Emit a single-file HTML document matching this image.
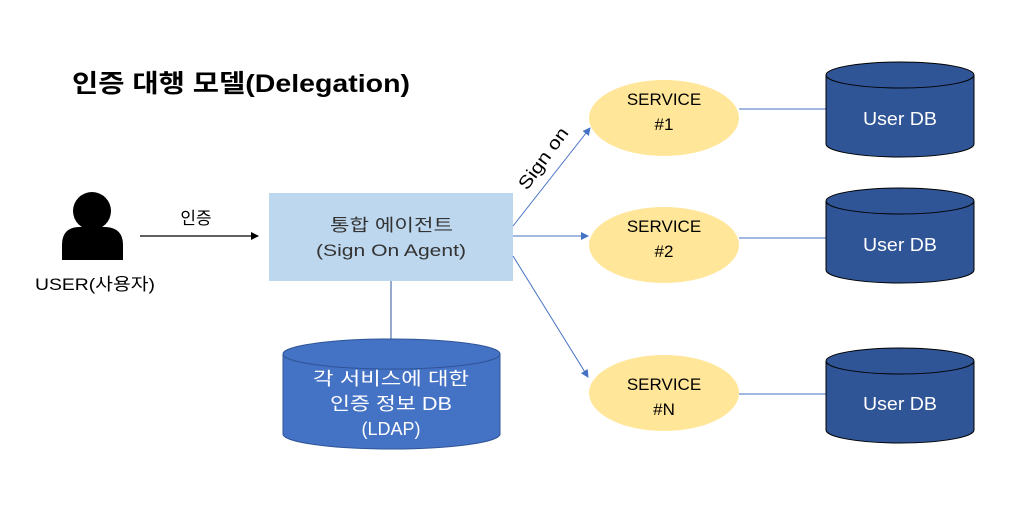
<!DOCTYPE html>
<html><head><meta charset="utf-8"><style>
html,body{margin:0;padding:0;background:#fff;}
svg{display:block;font-family:"Liberation Sans","Noto Sans CJK KR",sans-serif;}
</style></head><body>
<svg width="1013" height="512" viewBox="0 0 1013 512" xmlns="http://www.w3.org/2000/svg">
<defs>
<marker id="a" markerWidth="8" markerHeight="8" refX="7" refY="4" orient="auto" markerUnits="userSpaceOnUse">
<path d="M0,0 L8,4 L0,8 z" fill="#4472c4"/></marker>
<marker id="b" markerWidth="8" markerHeight="8" refX="7" refY="4" orient="auto" markerUnits="userSpaceOnUse">
<path d="M0,0 L8,4 L0,8 z" fill="#000"/></marker>
</defs>
<text x="72" y="92" font-size="25" font-weight="bold" fill="#000" textLength="338" lengthAdjust="spacingAndGlyphs">인증 대행 모델(Delegation)</text>

<circle cx="92" cy="211" r="19" fill="#000"/>
<path d="M62,260 L62,245 Q62,228 78,227 L106,227 Q123,228 123,245 L123,260 Z" fill="#000"/>
<text x="35" y="290" font-size="17" textLength="120" lengthAdjust="spacingAndGlyphs">USER(사용자)</text>

<line x1="140" y1="236" x2="258" y2="236" stroke="#000" stroke-width="1.2" marker-end="url(#b)"/>
<text x="196" y="224" font-size="17" text-anchor="middle">인증</text>

<rect x="269" y="193" width="244" height="88" fill="#bdd7ee"/>
<text x="330" y="231" font-size="17" fill="#333" textLength="123" lengthAdjust="spacingAndGlyphs">통합 에이전트</text>
<text x="316" y="256" font-size="17" fill="#333" textLength="150" lengthAdjust="spacingAndGlyphs">(Sign On Agent)</text>

<line x1="391" y1="281" x2="391" y2="340" stroke="#2f5597" stroke-width="1"/>
<path d="M283,354 L283,434 A108.5,15 0 0 0 500,434 L500,354" fill="#4472c4" stroke="#2f5597"/>
<ellipse cx="391.5" cy="354" rx="108.5" ry="15" fill="#4472c4" stroke="#2f5597"/>
<text x="313" y="385" font-size="18" fill="#fff" textLength="156" lengthAdjust="spacingAndGlyphs">각 서비스에 대한</text>
<text x="330" y="410" font-size="18" fill="#fff" textLength="122" lengthAdjust="spacingAndGlyphs">인증 정보 DB</text>
<text x="391" y="435" font-size="18" text-anchor="middle" fill="#fff">(LDAP)</text>

<line x1="513" y1="226" x2="590" y2="128" stroke="#4472c4" marker-end="url(#a)"/>
<line x1="513" y1="236" x2="588" y2="236" stroke="#4472c4" marker-end="url(#a)"/>
<line x1="513" y1="256" x2="588" y2="377" stroke="#4472c4" marker-end="url(#a)"/>
<text transform="translate(527,191) rotate(-54)" font-size="18" textLength="72" lengthAdjust="spacingAndGlyphs">Sign on</text>

<g font-size="17" text-anchor="middle" fill="#000">
<ellipse cx="664" cy="118" rx="75" ry="38" fill="#ffe699"/>
<text x="664" y="105">SERVICE</text><text x="664" y="130">#1</text>
<ellipse cx="664" cy="245" rx="75" ry="38" fill="#ffe699"/>
<text x="664" y="232">SERVICE</text><text x="664" y="257">#2</text>
<ellipse cx="664" cy="393" rx="75" ry="38" fill="#ffe699"/>
<text x="664" y="390">SERVICE</text><text x="664" y="415">#N</text>
</g>

<line x1="739" y1="109" x2="826" y2="109" stroke="#4472c4"/>
<line x1="739" y1="238" x2="826" y2="238" stroke="#4472c4"/>
<line x1="739" y1="394" x2="826" y2="394" stroke="#4472c4"/>

<g stroke="#000" stroke-width="1" fill="#2f5597">
<path d="M826,75 L826,144 A74,13 0 0 0 974,144 L974,75"/><ellipse cx="900" cy="75" rx="74" ry="13"/>
<path d="M826,201 L826,270 A74,13 0 0 0 974,270 L974,201"/><ellipse cx="900" cy="201" rx="74" ry="13"/>
<path d="M826,361 L826,430 A74,13 0 0 0 974,430 L974,361"/><ellipse cx="900" cy="361" rx="74" ry="13"/>
</g>
<g font-size="18" fill="#fff">
<text x="863" y="125" textLength="74" lengthAdjust="spacingAndGlyphs">User DB</text>
<text x="863" y="251" textLength="74" lengthAdjust="spacingAndGlyphs">User DB</text>
<text x="863" y="410" textLength="74" lengthAdjust="spacingAndGlyphs">User DB</text>
</g>
</svg>
</body></html>
